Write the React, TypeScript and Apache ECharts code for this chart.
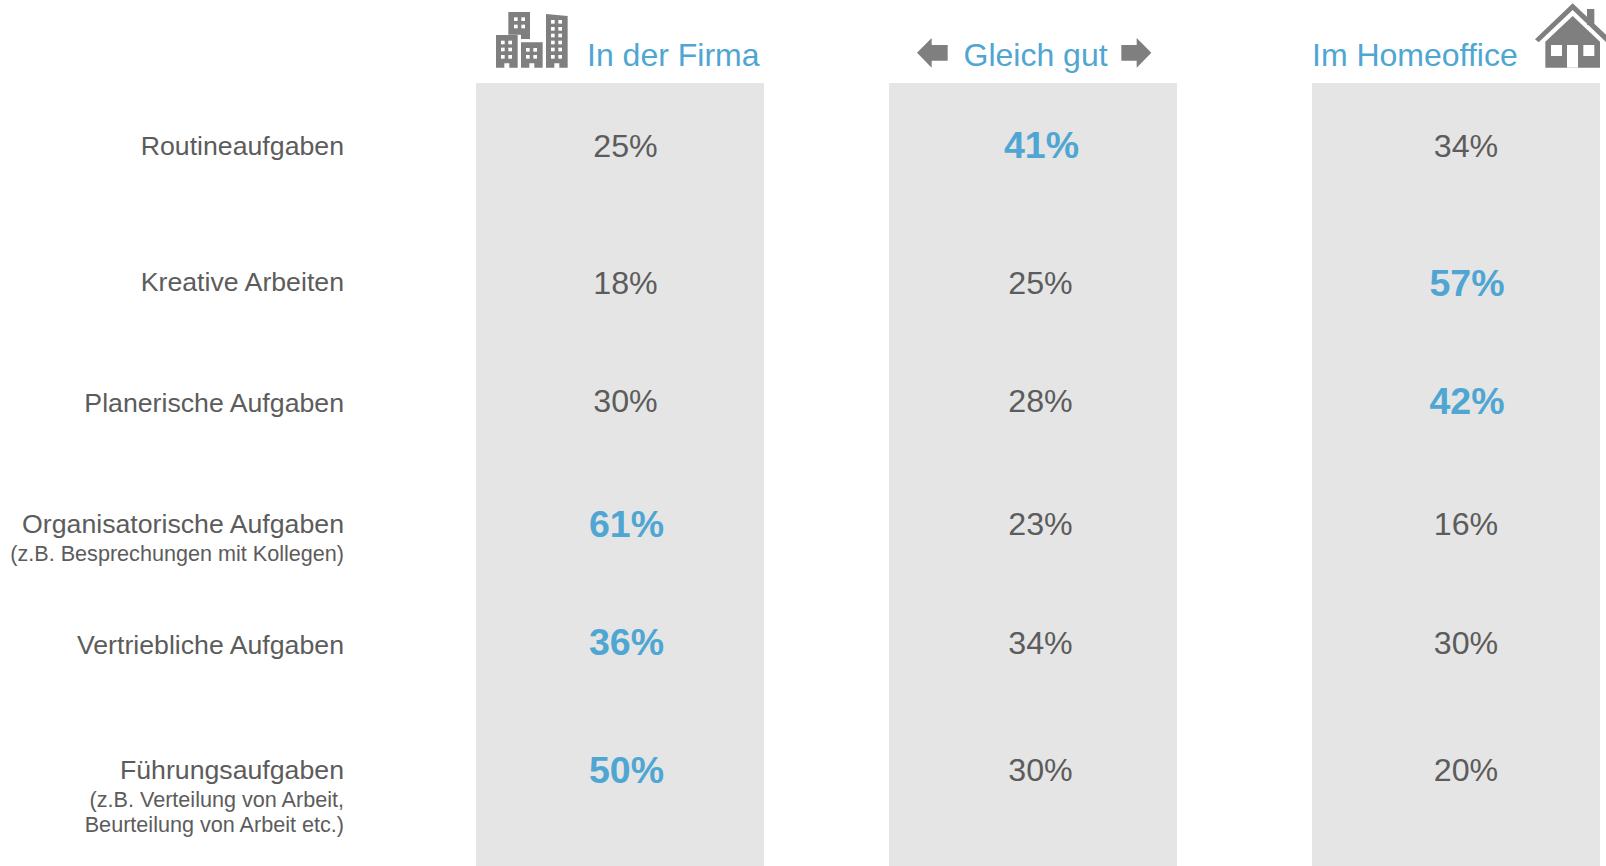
import React, { useEffect, useRef } from "react";
import * as echarts from "echarts";

const rowLabels = [
  "Routineaufgaben",
  "Kreative Arbeiten",
  "Planerische Aufgaben",
  "Organisatorische Aufgaben",
  "Vertriebliche Aufgaben",
  "Führungsaufgaben",
];
const rowNotes = [
  [],
  [],
  [],
  ["(z.B. Besprechungen mit Kollegen)"],
  [],
  ["(z.B. Verteilung von Arbeit,", "Beurteilung von Arbeit etc.)"],
];
const columns = ["In der Firma", "Gleich gut", "Im Homeoffice"];
const inFirma = [25, 18, 30, 61, 36, 50];
const gleichGut = [41, 25, 28, 23, 34, 30];
const homeoffice = [34, 57, 42, 16, 30, 20];

// layout (pixels)
const W = 1606;
const H = 866;
const FONT = '"Liberation Sans", Arial, sans-serif';
const GREY = "#5c5c5c";
const BLUE = "#4fa6d2";
const PANEL = "#e5e5e5";
const ICON = "#7f7f7f";
const valueY = [145.5, 283, 401, 524, 642.5, 770];
const labelY = [146, 282, 403, 524, 645, 770];
const valueX = [625.5, 1040.5, 1466];
const panels = [476, 889, 1312];
const panelW = 288;
const panelTop = 83;
const headerX = [587, 963.5, 1312];
const headerY = 55;
const labelRight = 344;

const seriesValues = [inFirma, gleichGut, homeoffice];

type Pt = [number, number];
const zoomPts = (ox: number, pts: Pt[]) => pts.map(([x, y]) => [ox + x / 3, y / 3]);
const poly = (ox: number, pts: Pt[], fill = ICON) => ({
  type: "polygon",
  shape: { points: zoomPts(ox, pts) },
  style: { fill },
  silent: true,
});
const box = (ox: number, x0: number, y0: number, x1: number, y1: number, fill = "#fff") => ({
  type: "rect",
  shape: { x: ox + x0 / 3, y: y0 / 3, width: (x1 - x0) / 3, height: (y1 - y0) / 3 },
  style: { fill },
  silent: true,
});

function buildingIcon() {
  const o = 470;
  const out: any[] = [];
  out.push(poly(o, [[115, 36], [180, 36], [180, 117], [153, 117], [153, 104], [115, 104]]));
  out.push(poly(o, [[78, 105], [143, 105], [143, 203], [118, 203], [118, 190], [103, 190], [103, 203], [78, 203]]));
  out.push(poly(o, [[153, 127], [218, 127], [218, 203], [193, 203], [193, 190], [178, 190], [178, 203], [153, 203]]));
  out.push(poly(o, [[228, 42], [293, 48], [293, 203], [268, 203], [268, 190], [253, 190], [253, 203], [228, 203]]));
  [[132, 52], [154, 52], [132, 74], [154, 74]].forEach(([x, y]) => out.push(box(o, x, y, x + 11, y + 11)));
  [93, 115].forEach((x) => [122, 143, 165].forEach((y) => out.push(box(o, x, y, x + 11, y + 11))));
  [168, 190].forEach((x) => [144, 165].forEach((y) => out.push(box(o, x, y, x + 11, y + 11))));
  [243, 265].forEach((x) =>
    [60, 81, 101, 122, 143, 165].forEach((y) => out.push(box(o, x, y, x + 11, y + 11)))
  );
  return out;
}

function arrowIcons() {
  const o = 880;
  return [
    poly(o, [[111, 158], [155, 114], [155, 135], [203, 135], [203, 182], [155, 182], [155, 203]]),
    poly(o, [[724, 135], [770, 135], [770, 114], [814, 158], [770, 203], [770, 182], [724, 182]]),
  ];
}

function houseIcon() {
  const o = 1286;
  return [
    box(o, 903, 27, 925, 75, ICON),
    poly(o, [[747, 118], [860, 10], [975, 118], [963, 129], [860, 30], [758, 127]]),
    poly(o, [[778, 203], [778, 125], [860, 48], [942, 125], [942, 203]]),
    box(o, 795, 135, 828, 168),
    box(o, 892, 135, 925, 168),
    box(o, 843, 135, 876, 203),
  ];
}

const text = (s: string, x: number, y: number, size: number, fill: string, align = "right") => ({
  type: "text",
  x,
  y,
  silent: true,
  style: {
    text: s,
    fontFamily: FONT,
    fontSize: size,
    fill,
    textAlign: align,
    textVerticalAlign: "middle",
  },
});

export default function App() {
  const ref = useRef<HTMLDivElement>(null);
  useEffect(() => {
    document.body.style.margin = "0";
    const chart = echarts.init(ref.current!, null, { renderer: "svg" });
    const graphics: any[] = [
      ...panels.map((x) => ({
        type: "rect",
        z: -1,
        silent: true,
        shape: { x, y: panelTop, width: panelW, height: H - panelTop },
        style: { fill: PANEL },
      })),
      ...columns.map((c, i) => text(c, headerX[i], headerY, 32, BLUE, "left")),
      ...rowLabels.map((l, i) => text(l, labelRight, labelY[i], 26.7, GREY)),
      ...rowNotes.flatMap((notes, i) =>
        notes.map((n, j) => text(n, labelRight, labelY[i] + 29 + j * 25.5, 21.6, GREY))
      ),
      ...buildingIcon(),
      ...arrowIcons(),
      ...houseIcon(),
    ];
    chart.setOption({
      animation: false,
      grid: { left: 0, right: 0, top: 0, bottom: 0 },
      xAxis: { type: "value", min: 0, max: W, show: false },
      yAxis: { type: "value", min: 0, max: H, inverse: true, show: false },
      tooltip: { show: false },
      graphic: { elements: graphics },
      series: seriesValues.map((vals, c) => ({
        type: "scatter",
        name: columns[c],
        symbolSize: 0,
        silent: true,
        itemStyle: { opacity: 1 },
        data: vals.map((v, r) => {
          const top = Math.max(inFirma[r], gleichGut[r], homeoffice[r]) === v;
          return {
            value: [valueX[c] + (top ? 1 : 0), valueY[r] - (top ? 0.5 : 0)],
            label: {
              show: true,
              position: "inside",
              formatter: `${v}%`,
              fontFamily: FONT,
              fontSize: top ? 37.5 : 32.2,
              fontWeight: top ? "bold" : "normal",
              color: top ? BLUE : GREY,
              opacity: 1,
            },
          };
        }),
      })),
    });
    return () => chart.dispose();
  }, []);
  return <div ref={ref} style={{ position: "absolute", left: 0, top: 0, width: W, height: H }} />;
}
